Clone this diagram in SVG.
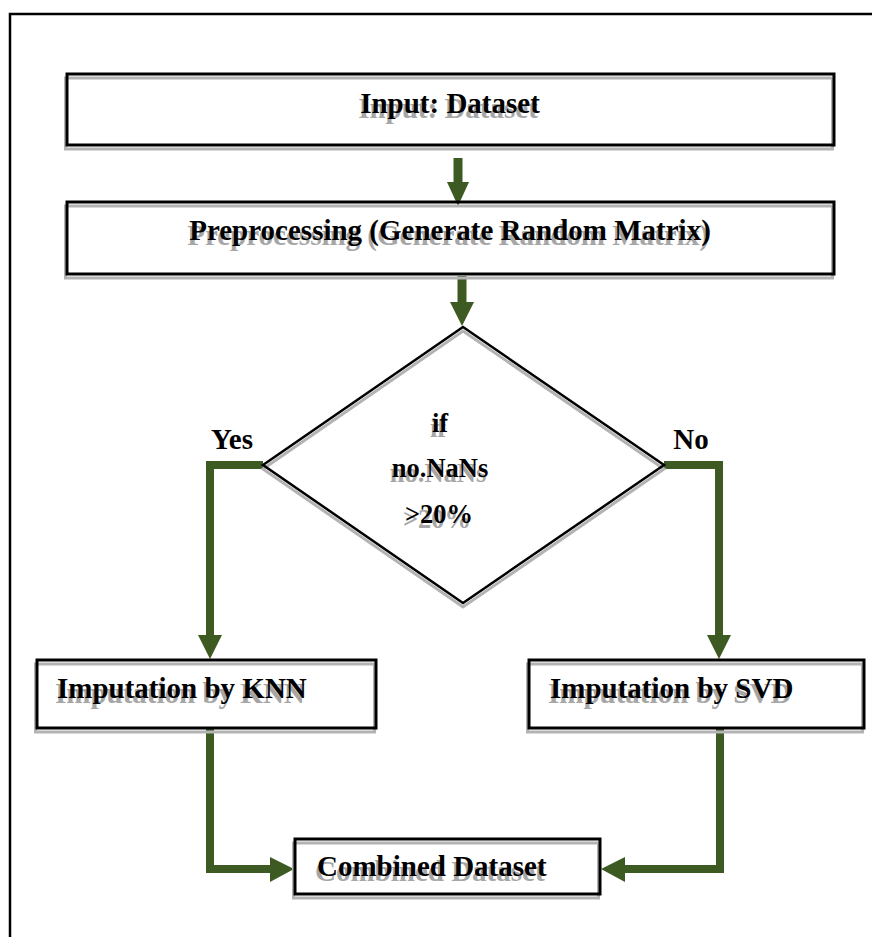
<svg xmlns="http://www.w3.org/2000/svg" xmlns:xlink="http://www.w3.org/1999/xlink" width="872" height="937" viewBox="0 0 872 937">
<style>
.box{fill:none;stroke:#000;stroke-width:3}
.shadow{fill:none;stroke:#b3b3b3;stroke-width:3}
.t{font-weight:bold;font-size:29px}
.d{font-weight:bold;font-size:26.5px}
.lbl{font-weight:bold;font-size:29px;fill:#000}
.conn{fill:none;stroke:#3c5a22;stroke-width:8;stroke-linejoin:miter}
.shaft{fill:none;stroke:#3c5a22;stroke-width:9}
.head{fill:#3c5a22}
.ts{fill:#a6a6a6}
</style>
<rect width="872" height="937" fill="#fff"/>
<path d="M10,937 V14 H872" fill="none" stroke="#000" stroke-width="2.5"/>

<g id="connectors">
<line class="shaft" x1="458" y1="158" x2="458" y2="184"/>
<polygon class="head" points="447,182 469,182 458,206"/>
<line class="shaft" x1="462" y1="276" x2="462" y2="304"/>
<polygon class="head" points="450,302 474,302 462,326"/>
<polyline class="conn" points="263,465 210,465 210,637"/>
<polygon class="head" points="198,635 222,635 210,659"/>
<polyline class="conn" points="664,465 719,465 719,637"/>
<polygon class="head" points="707,635 731,635 719,659"/>
<polyline class="conn" points="210,728 210,869 272,869"/>
<polygon class="head" points="270,857 270,882 294,869"/>
<polyline class="conn" points="720,728 720,869 623,869"/>
<polygon class="head" points="625,857 625,882 601,869"/>
</g>

<g font-family="'Liberation Serif', 'Times New Roman', 'DejaVu Serif', serif">
<g id="input">
<rect class="shadow" x="65.5" y="78" width="767" height="71"/>
<rect class="box" x="67" y="74" width="767" height="71"/>
<use xlink:href="#t1" class="ts" transform="translate(-2,5)"/>
<g fill="#000"><text id="t1" class="t" x="450" y="113" text-anchor="middle">Input: Dataset</text></g>
</g>

<g id="preprocessing">
<rect class="shadow" x="65.5" y="206" width="767" height="72"/>
<rect class="box" x="67" y="202" width="767" height="72"/>
<use xlink:href="#t2" class="ts" transform="translate(-2,5)"/>
<g fill="#000"><text id="t2" class="t" x="450" y="240" text-anchor="middle">Preprocessing (Generate Random Matrix)</text></g>
</g>

<g id="decision">
<polygon points="463,331 664,469 463,607 263,469" fill="none" stroke="#b3b3b3" stroke-width="3"/>
<polygon points="463,327 664,465 463,603 263,465" fill="none" stroke="#000" stroke-width="2.5"/>
<use xlink:href="#t3" class="ts" transform="translate(-2,5)"/>
<use xlink:href="#t4" class="ts" transform="translate(-2,5)"/>
<use xlink:href="#t5" class="ts" transform="translate(-2,5)"/>
<g fill="#000">
<text id="t3" class="d" x="440" y="432" text-anchor="middle">if</text>
<text id="t4" class="d" x="440" y="477" text-anchor="middle">no.NaNs</text>
<text id="t5" class="d" x="439" y="523" text-anchor="middle">&gt;20%</text>
</g>
</g>

<g id="labels">
<text class="lbl" x="232" y="449" text-anchor="middle">Yes</text>
<text class="lbl" x="691" y="449" text-anchor="middle">No</text>
</g>

<g id="knn">
<rect class="shadow" x="35.5" y="664" width="339" height="68"/>
<rect class="box" x="37" y="660" width="339" height="68"/>
<use xlink:href="#t6" class="ts" transform="translate(-2,5)"/>
<g fill="#000"><text id="t6" class="t" x="57" y="698">Imputation by KNN</text></g>
</g>

<g id="svd">
<rect class="shadow" x="527.5" y="664" width="335" height="68"/>
<rect class="box" x="529" y="660" width="335" height="68"/>
<use xlink:href="#t7" class="ts" transform="translate(-2,5)"/>
<g fill="#000"><text id="t7" class="t" x="550" y="698">Imputation by SVD</text></g>
</g>

<g id="combined">
<rect class="shadow" x="293.5" y="843" width="305" height="55"/>
<rect class="box" x="295" y="839" width="305" height="55"/>
<use xlink:href="#t8" class="ts" transform="translate(-2,5)"/>
<g fill="#000"><text id="t8" class="t" x="317" y="876">Combined Dataset</text></g>
</g>
</g>
</svg>
